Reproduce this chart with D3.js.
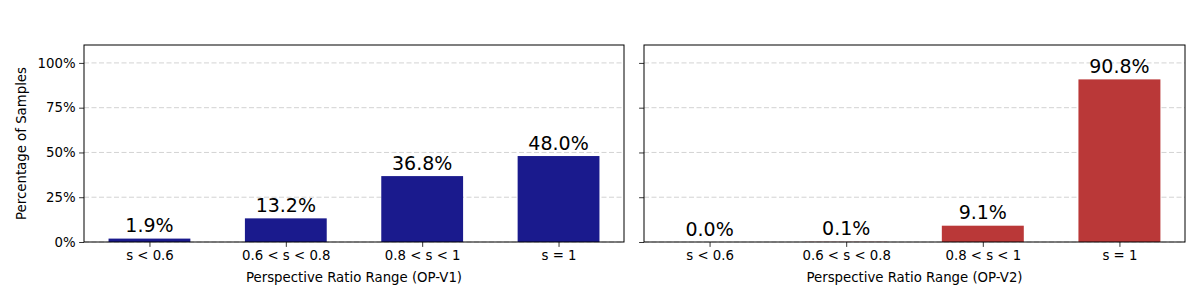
<!DOCTYPE html>
<html><head><meta charset="utf-8">
<script src="https://cdn.jsdelivr.net/npm/d3@7"></script>
<style>body{margin:0;background:#fff}svg{display:block;font-family:"DejaVu Sans",sans-serif}</style>
</head><body><svg id="c" width="1200" height="300"></svg>
<script>
const categories = ["s < 0.6", "0.6 < s < 0.8", "0.8 < s < 1", "s = 1"];
const valuesV1 = [1.9, 13.2, 36.8, 48.0];
const valuesV2 = [0.0, 0.1, 9.1, 90.8];
const yTicks = [0, 25, 50, 75, 100];
const xTitles = ["Perspective Ratio Range (OP-V1)", "Perspective Ratio Range (OP-V2)"];
const colors = ["#1a1a8d", "#ba3838"];

(function () {
const svg = d3.select("#c");
const plotTop = 45, plotBottom = 242;
const panels = [{x0: 84, x1: 624, vals: valuesV1}, {x0: 644, x1: 1185, vals: valuesV2}];
const y = d3.scaleLinear().domain([0, 110]).range([plotBottom, plotTop]);

panels.forEach((p, i) => {
  const x = d3.scaleLinear().domain([-0.48, 3.48]).range([p.x0, p.x1]);
  const step = x(1) - x(0);
  const g = svg.append("g");
  g.selectAll("line.grid").data(yTicks).join("line")
    .attr("x1", p.x0).attr("x2", p.x1)
    .attr("y1", d => y(d)).attr("y2", d => y(d))
    .attr("stroke", "#c8c8c8").attr("stroke-width", 0.8)
    .attr("stroke-dasharray", "5,2.5");
  g.selectAll("rect.bar").data(p.vals).join("rect")
    .attr("x", (d, j) => x(j) - 0.3 * step)
    .attr("width", 0.6 * step)
    .attr("y", d => y(d))
    .attr("height", d => plotBottom - y(d))
    .attr("fill", colors[i]);
  g.selectAll("text.val").data(p.vals).join("text")
    .attr("x", (d, j) => x(j))
    .attr("y", d => y(d) - 6.5)
    .attr("text-anchor", "middle")
    .attr("font-size", "19px")
    .attr("fill", "#000")
    .text(d => d.toFixed(1) + "%");
  const xa = d3.axisBottom(x).tickValues([0, 1, 2, 3]).tickFormat(j => categories[j]).tickSize(4.9).tickPadding(3.5);
  const gx = g.append("g").attr("transform", `translate(0,${plotBottom})`).call(xa);
  gx.select(".domain").remove();
  gx.selectAll("text").attr("font-size", "13.3px").attr("fill", "#000").attr("font-family", "DejaVu Sans");
  gx.selectAll("line").attr("stroke", "#000").attr("stroke-width", 0.8);
  const ya = d3.axisLeft(y).tickValues(yTicks).tickFormat(d => i === 0 ? d + "%" : "").tickSize(4.9).tickPadding(3.5);
  const gy = g.append("g").attr("transform", `translate(${p.x0},0)`).call(ya);
  gy.select(".domain").remove();
  gy.selectAll("text").attr("font-size", "13.3px").attr("fill", "#000").attr("font-family", "DejaVu Sans");
  gy.selectAll("line").attr("stroke", "#000").attr("stroke-width", 0.8);
  g.append("rect").attr("x", p.x0).attr("y", plotTop).attr("width", p.x1 - p.x0).attr("height", plotBottom - plotTop)
    .attr("fill", "none").attr("stroke", "#000").attr("stroke-width", 1);
  g.append("text").attr("x", (p.x0 + p.x1) / 2).attr("y", 282).attr("text-anchor", "middle")
    .attr("font-size", "13.3px").text(xTitles[i]);
});
svg.append("text").attr("transform", `translate(26,${(plotTop + plotBottom) / 2}) rotate(-90)`)
  .attr("text-anchor", "middle").attr("font-size", "13.3px").text("Percentage of Samples");
})();
</script></body></html>
